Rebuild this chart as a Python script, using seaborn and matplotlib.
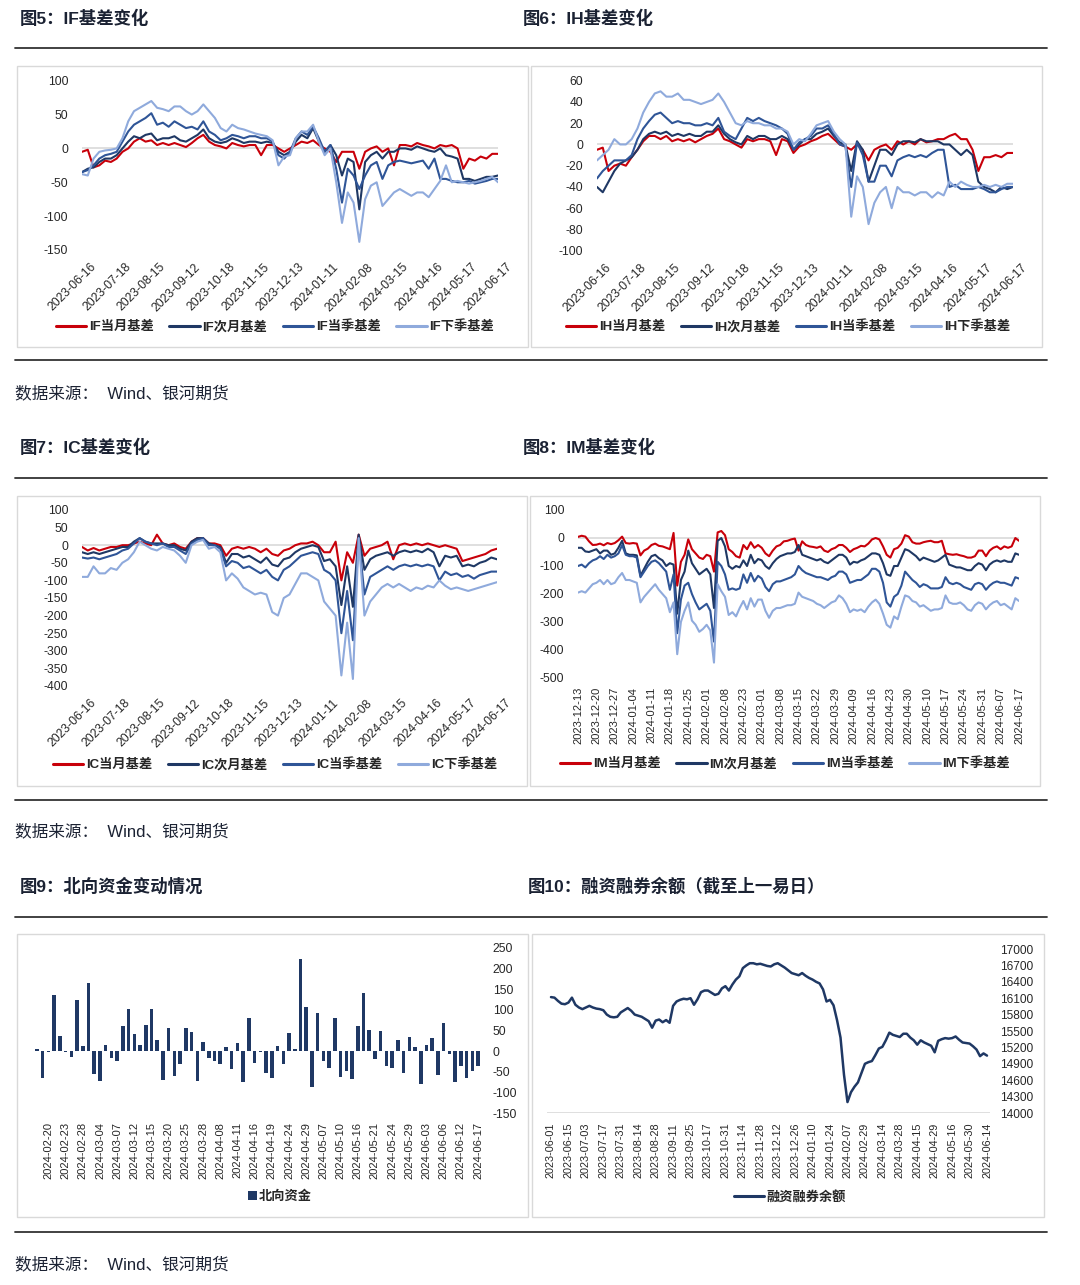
import numpy as np
import pandas as pd
import matplotlib
matplotlib.use('Agg')
import matplotlib.pyplot as plt
import matplotlib.transforms as mtransforms
from matplotlib.lines import Line2D
from matplotlib.patches import Rectangle
from matplotlib.font_manager import FontProperties
import seaborn as sns

W, H = 1080, 1285

# ---------------- data ----------------
basis_ticks = ['2023-06-16', '2023-07-18', '2023-08-15', '2023-09-12', '2023-10-18',
               '2023-11-15', '2023-12-13', '2024-01-11', '2024-02-08', '2024-03-15',
               '2024-04-16', '2024-05-17', '2024-06-17']

if_curr = [-5, -2, -28, -25, -18, -20, -15, -5, 0, 10, 15, 10, 12, 5, 8, 5, 8, 5,
           2, 8, 15, 20, 10, 5, 3, 0, 8, 5, 3, 5, 5, -10, 5, 5, 0, -5,
           0, 5, 10, 8, 12, 5, 0, -5, -20, -5, -5, -5, -30, -5, 0, 3, -5, 0,
           -25, 5, 5, 3, 8, 5, 3, 0, 5, 3, 5, 0, -30, -15, -18, -12, -15, -8, -8]
if_next = [-35, -30, -28, -20, -15, -15, -10, 0, 10, 18, 15, 20, 22, 12, 15, 15, 18, 12,
           10, 15, 20, 28, 15, 10, 8, 10, 15, 12, 8, 10, 10, 8, 10, 8, -5, -10,
           -5, 10, 20, 15, 30, 10, -5, 5, -10, -40, -15, -20, -90, -20, -10, -5, -15, -5,
           -5, 0, 0, -2, 3, 0, -3, -5, 0, -10, -12, -15, -45, -45, -48, -45, -42, -42, -40]
if_quarter = [-35, -32, -25, -15, -10, -8, -5, 10, 25, 35, 40, 45, 52, 35, 38, 32, 40, 35,
              30, 32, 28, 40, 25, 20, 12, 15, 20, 18, 15, 18, 18, 15, 15, 10, -10, -15,
              -5, 15, 25, 20, 32, 15, -5, 5, -30, -80, -30, -40, -60, -40, -25, -20, -45, -25,
              -20, -18, -20, -22, -20, -18, -30, -15, -45, -45, -48, -50, -50, -48, -52, -50, -48, -45, -45]
if_nextq = [-38, -40, -15, -5, -3, -2, 0, 15, 40, 55, 60, 65, 70, 60, 58, 55, 62, 62,
            55, 50, 55, 65, 55, 45, 30, 25, 35, 30, 28, 25, 22, 20, 18, 12, -25, -12,
            -10, 15, 25, 25, 35, 10, -10, 0, -50, -110, -65, -80, -138, -75, -55, -50, -85, -75,
            -65, -60, -65, -70, -65, -65, -72, -60, -48, -25, -50, -48, -50, -52, -50, -48, -45, -42, -50]

ih_curr = [-5, -3, -25, -20, -18, -20, -12, -5, 3, 8, 8, 5, 8, 3, 5, 3, 5, 2,
           5, 8, 10, 15, 5, 3, 0, -3, 5, 3, 5, 5, 3, -10, 5, 3, -8, -2,
           0, 3, 5, 8, 10, 5, 0, -2, -5, 0, -5, -15, -5, -2, 0, -5, 3, 0,
           3, 0, 5, 2, 3, 5, 5, 8, 10, 5, 5, -5, -25, -12, -12, -10, -12, -8, -8]
ih_next = [-40, -45, -35, -25, -18, -15, -12, -5, 5, 10, 12, 10, 12, 8, 10, 8, 10, 8,
           8, 12, 12, 18, 10, 5, 2, 0, 8, 5, 8, 8, 5, 5, 8, 5, -5, 0,
           5, 5, 10, 12, 15, 8, 2, 0, -25, 3, -5, -35, -20, -5, -5, -10, 0, 3,
           3, 2, 5, 3, 3, 3, 0, 0, -5, -10, -5, -10, -35, -40, -42, -45, -40, -42, -40]
ih_quarter = [-32, -25, -20, -15, -15, -15, -10, 5, 15, 22, 28, 30, 25, 20, 22, 20, 20, 18,
              18, 20, 18, 25, 12, 8, 5, 15, 25, 22, 25, 22, 20, 18, 15, 10, -5, 2,
              5, 8, 15, 15, 18, 10, 0, -2, -40, 2, -10, -35, -35, -20, -20, -30, -15, -12,
              -10, -12, -10, -12, -8, -5, -5, -40, -38, -42, -42, -42, -40, -42, -45, -45, -42, -40, -40]
ih_nextq = [-15, -10, -5, 5, 0, 0, 5, 15, 30, 40, 48, 50, 45, 45, 48, 42, 42, 40,
            38, 40, 42, 48, 40, 30, 20, 18, 22, 20, 20, 18, 18, 15, 15, 12, 0, 5,
            3, 10, 18, 20, 22, 12, 5, 0, -68, -30, -40, -75, -55, -45, -40, -60, -40, -45,
            -45, -48, -45, -45, -50, -45, -48, -35, -40, -35, -38, -40, -40, -38, -40, -38, -40, -37, -37]

ic_curr = [-5, -15, -8, -15, -10, -5, -5, 0, 0, 5, 10, 5, 0, 30, 5, 0, 5, -5,
           -10, 10, 20, 20, 5, 5, 0, -30, -10, -5, -10, -5, -10, -20, -10, -25, -30, -15,
           -10, 0, 5, 5, 10, 0, -20, -20, 10, -100, -20, -50, 30, -30, -10, -5, 0, 10,
           -40, 0, 5, 0, 5, 0, 5, 0, -5, 0, -5, -10, -45, -40, -35, -30, -25, -15, -10]
ic_next = [-20, -25, -20, -25, -20, -15, -10, -5, -5, 10, 20, 10, 5, 5, 5, 0, 0, -10,
           -15, 10, 20, 20, 5, 0, -5, -50, -25, -25, -35, -30, -40, -50, -35, -55, -60, -40,
           -35, -20, -10, -5, 0, -5, -45, -40, -60, -170, -60, -175, 30, -70, -40, -30, -25, -20,
           -30, -20, -15, -20, -15, -20, -10, -20, -60, -30, -35, -30, -60, -55, -60, -50, -45, -35, -40]
ic_quarter = [-35, -38, -35, -40, -35, -30, -25, -15, -10, 5, 20, 10, 5, 0, 5, -5, -5, -15,
              -25, 5, 15, 20, 0, 0, -10, -60, -45, -50, -65, -60, -70, -80, -70, -90, -100, -70,
              -60, -45, -30, -25, -20, -25, -70, -80, -100, -250, -130, -270, 20, -140, -90, -80, -70, -60,
              -70, -60, -55, -60, -55, -60, -55, -60, -100, -75, -85, -80, -90, -85, -95, -85, -80, -75, -75]
ic_nextq = [-90, -90, -60, -80, -80, -65, -70, -50, -40, -20, 10, 0, -10, -15, -5, -10, -15, -30,
            -50, 0, 10, 15, -10, -5, -20, -100, -80, -95, -120, -130, -140, -135, -140, -190, -200, -150,
            -140, -110, -80, -80, -90, -100, -160, -180, -200, -370, -220, -380, 20, -200, -160, -140, -120, -110,
            -120, -110, -120, -130, -120, -125, -115, -120, -100, -115, -125, -120, -125, -130, -125, -120, -115, -110, -105]

im_ticks = ['2023-12-13', '2023-12-20', '2023-12-27', '2024-01-04', '2024-01-11', '2024-01-18',
            '2024-01-25', '2024-02-01', '2024-02-08', '2024-02-23', '2024-03-01', '2024-03-08',
            '2024-03-15', '2024-03-22', '2024-03-29', '2024-04-09', '2024-04-16', '2024-04-23',
            '2024-04-30', '2024-05-10', '2024-05-17', '2024-05-24', '2024-05-31', '2024-06-07',
            '2024-06-17']
im_curr = [4, 8, 5, -12, -25, -24, -20, -26, -18, -22, -18, -8, 5, -18, -20,
           -18, -20, -62, -45, -38, -25, -20, -28, -30, -35, -40, 18, -170, -85, -60,
           -5, -40, -55, -70, -75, -60, -65, -120, 20, 25, 10, -40, -50, -65, -70,
           -25, -40, -15, -35, -25, -35, -55, -65, -45, -30, -25, -12, -10, -5, -2,
           -45, -12, -25, -30, -32, -35, -30, -45, -50, -40, -35, -25, -25, -35, -50,
           -40, -35, -28, -30, -20, -5, 0, -5, -30, -60, -70, -40, -35, -20, 10,
           5, -15, -20, -20, -15, -12, -10, -15, -15, -10, -55, -58, -60, -58, -62,
           -65, -70, -70, -65, -45, -45, -65, -45, -35, -30, -40, -30, -35, -30, 0, -10]
im_next = [-35, -35, -48, -50, -45, -40, -55, -45, -45, -60, -55, -35, -10, -55, -60,
           -60, -62, -135, -110, -85, -65, -60, -72, -80, -100, -90, -95, -270, -150, -120,
           -45, -90, -110, -130, -120, -110, -130, -250, -10, 0, -30, -100, -110, -100, -105,
           -80, -100, -60, -90, -75, -80, -100, -110, -90, -75, -65, -60, -55, -55, -50,
           -25, -60, -65, -70, -75, -80, -75, -85, -90, -80, -70, -60, -60, -70, -95,
           -85, -88, -80, -75, -65, -55, -55, -60, -90, -130, -135, -100, -100, -70, -40,
           -45, -55, -65, -80, -70, -75, -80, -85, -80, -70, -60, -95, -100, -105, -105,
           -110, -115, -115, -100, -90, -95, -115, -95, -85, -80, -85, -80, -85, -85, -55, -60]
im_quarter = [-100, -95, -105, -90, -80, -75, -65, -75, -60, -70, -65, -55, -25, -60, -65,
              -65, -70, -140, -120, -100, -85, -80, -90, -105, -120, -185, -130, -340, -220, -170,
              -160, -200, -230, -255, -245, -235, -260, -370, -85, -100, -130, -185, -180, -185, -180,
              -130, -160, -125, -155, -135, -145, -175, -190, -165, -155, -155, -150, -145, -140, -130,
              -100, -115, -125, -130, -135, -140, -140, -145, -150, -140, -135, -120, -120, -130, -160,
              -155, -150, -150, -140, -130, -110, -110, -120, -160, -230, -245, -210, -200, -170, -120,
              -135, -150, -160, -175, -165, -170, -180, -180, -180, -175, -140, -160, -165, -160, -165,
              -175, -180, -185, -165, -160, -165, -185, -170, -160, -155, -160, -160, -165, -170, -140, -145]
im_nextq = [-195, -190, -195, -180, -165, -160, -150, -165, -150, -165, -160, -140, -125, -150, -150,
            -155, -160, -230, -210, -195, -180, -165, -185, -200, -215, -265, -230, -415, -300, -260,
            -230, -295, -310, -335, -325, -310, -330, -445, -165, -190, -210, -275, -265, -280, -250,
            -225, -255, -215, -245, -220, -220, -260, -285, -260, -250, -250, -245, -240, -240, -235,
            -195, -210, -215, -220, -225, -235, -240, -250, -240, -230, -225, -205, -215, -235, -265,
            -255, -260, -255, -265, -245, -230, -220, -235, -270, -310, -320, -280, -290, -245, -205,
            -210, -225, -230, -245, -240, -250, -260, -255, -255, -250, -205, -230, -235, -235, -230,
            -240, -255, -260, -240, -230, -235, -255, -240, -230, -225, -240, -235, -245, -255, -215, -225]

north_ticks = ['2024-02-20', '2024-02-23', '2024-02-28', '2024-03-04', '2024-03-07', '2024-03-12',
               '2024-03-15', '2024-03-20', '2024-03-25', '2024-03-28', '2024-04-08', '2024-04-11',
               '2024-04-16', '2024-04-19', '2024-04-24', '2024-04-29', '2024-05-07', '2024-05-10',
               '2024-05-16', '2024-05-21', '2024-05-24', '2024-05-29', '2024-06-03', '2024-06-06',
               '2024-06-12', '2024-06-17']
north_flow = [6, -65, -2, 135, 36, -3, -15, 123, 13, 165, -55, -73, 15, -16, -23, 60, 102, 42,
              15, 63, 102, 28, -71, 55, -61, -32, 55, 46, -73, 23, -16, -24, -31, 10, -43, 19,
              -74, 81, -29, -3, -53, -66, 13, -31, 45, 4, 223, 108, -86, 93, -23, -42, 80, -63,
              -48, -68, 60, 140, 52, -20, 48, -35, -41, 27, -52, 35, 10, -80, 15, 32, -58, 67,
              -8, -76, -35, -65, -49, -35]

margin_ticks = ['2023-06-01', '2023-06-15', '2023-07-03', '2023-07-17', '2023-07-31', '2023-08-14',
                '2023-08-28', '2023-09-11', '2023-09-25', '2023-10-17', '2023-10-31', '2023-11-14',
                '2023-11-28', '2023-12-12', '2023-12-26', '2024-01-10', '2024-01-24', '2024-02-07',
                '2024-02-29', '2024-03-14', '2024-03-28', '2024-04-15', '2024-04-29', '2024-05-16',
                '2024-05-30', '2024-06-14']
margin_balance = [16120, 16110, 16050, 16000, 15990, 16020, 16110, 15980, 15930, 15900,
                  15930, 15960, 15930, 15910, 15900, 15880, 15800, 15760, 15750, 15760,
                  15840, 15880, 15920, 15870, 15800, 15780, 15760, 15720, 15680, 15560,
                  15690, 15710, 15660, 15700, 15650, 15960, 16040, 16070, 16090, 16080,
                  16100, 15980, 16080, 16210, 16240, 16240, 16200, 16160, 16180, 16280,
                  16320, 16240, 16350, 16440, 16500, 16650, 16700, 16740, 16740, 16720,
                  16730, 16710, 16690, 16680, 16720, 16740, 16700, 16660, 16610, 16560,
                  16540, 16520, 16560, 16510, 16470, 16440, 16400, 16370, 16260, 16040,
                  16070, 15970, 15700, 15380, 14700, 14200, 14380, 14480, 14560, 14730,
                  14900, 14930, 14950, 15060, 15180, 15210, 15330, 15470, 15430, 15410,
                  15390, 15450, 15450, 15380, 15330, 15250, 15330, 15290, 15260, 15230,
                  15110, 15320, 15350, 15370, 15360, 15370, 15400, 15340, 15290, 15280,
                  15270, 15220, 15160, 15040, 15090, 15050]

COLORS = ['#C8000A', '#1F3864', '#2F5597', '#8FAADC']
SUFFIX = ['当月基差', '次月基差', '当季基差', '下季基差']
FAM = ['Liberation Sans', 'Noto Sans CJK SC', 'DejaVu Sans']
TXT = '#262626'
NAVY = '#1F3864'

sns.set_theme(style='white')
plt.rcParams['font.family'] = FAM
plt.rcParams['axes.unicode_minus'] = False

fig = plt.figure(figsize=(W / 100, H / 100), dpi=100)


def axes_px(x0, x1, yt, yb):
    ax = fig.add_axes([x0 / W, 1 - yb / H, (x1 - x0) / W, (yb - yt) / H])
    ax.set_facecolor('none')
    return ax


def clean(ax):
    for s in ax.spines.values():
        s.set_visible(False)
    ax.tick_params(length=0, colors=TXT)
    ax.set_xlabel('')
    ax.set_ylabel('')
    ax.grid(False)


def fig_legend(handles, labels, cx, cy, ncol, **kw):
    fig.legend(handles, labels, loc='center', bbox_to_anchor=(cx / W, 1 - cy / H),
               ncol=ncol, frameon=False,
               prop=FontProperties(family=FAM, weight='bold', size=9.5), **kw)


def basis_panel(prefix, series, box, ylim, yticks, xlabels, rotate45, legend_xy):
    x0, x1, yt, yb = box
    ax = axes_px(x0, x1, yt, yb)
    n = len(series[0])
    names = [prefix + s for s in SUFFIX]
    df = pd.DataFrame({'idx': np.tile(np.arange(n), 4),
                       'val': np.concatenate([np.asarray(s, float) for s in series]),
                       'name': np.repeat(names, n)})
    ax.axhline(0, color='#D9D9D9', lw=1.2, zorder=0)
    sns.lineplot(data=df, x='idx', y='val', hue='name', hue_order=names,
                 palette=dict(zip(names, COLORS)), linewidth=1.5, ax=ax, legend=False)
    clean(ax)
    ax.set_xlim(0, n - 1)
    ax.set_ylim(*ylim)
    ax.set_yticks(yticks)
    ax.set_yticklabels([str(v) for v in yticks], fontsize=8.7)
    ax.tick_params(axis='y', pad=10)
    step = (n - 1) / (len(xlabels) - 1)
    ax.set_xticks([step * i for i in range(len(xlabels))])
    if rotate45:
        ax.set_xticklabels(xlabels, rotation=45, ha='right', rotation_mode='anchor', fontsize=8.7)
        ax.tick_params(axis='x', pad=8)
        off = mtransforms.ScaledTranslation(8 / 100, 0, fig.dpi_scale_trans)
        for t in ax.get_xticklabels():
            t.set_transform(t.get_transform() + off)
    else:
        ax.set_xticklabels(xlabels, rotation=90, ha='center', va='top', fontsize=8)
        ax.tick_params(axis='x', pad=6.5)
    handles = [Line2D([], [], color=c, lw=2.2) for c in COLORS]
    fig_legend(handles, names, legend_xy[0], legend_xy[1], 4,
               handlelength=2.3, handletextpad=0.2, columnspacing=1.2)
    return ax


# ---------------- page furniture ----------------
def title(x, y, s):
    fig.text(x / W, 1 - y / H, s, ha='left', va='center', fontsize=12.5,
             weight='bold', color='#1B2233', family=FAM)


def source(y):
    fig.text(15 / W, 1 - y / H, '数据来源：  Wind、银河期货', ha='left', va='center',
             fontsize=12, color='#1B2233', family=FAM)


def rule(y):
    fig.add_artist(Line2D([15 / W, 1047 / W], [1 - y / H, 1 - y / H],
                          transform=fig.transFigure, color='#333333', lw=1.3))


def frame(x0, y0, x1, y1):
    fig.add_artist(Rectangle((x0 / W, 1 - y1 / H), (x1 - x0) / W, (y1 - y0) / H,
                             transform=fig.transFigure, fill=False, ec='#D9D9D9', lw=1))


title(20, 18, '图5：IF基差变化')
title(523, 18, '图6：IH基差变化')
title(20, 447, '图7：IC基差变化')
title(523, 447, '图8：IM基差变化')
title(20, 886, '图9：北向资金变动情况')
title(528, 886, '图10：融资融券余额（截至上一易日）')
for y in (48, 360, 478, 800, 917, 1232):
    rule(y)
for y in (393, 831, 1264):
    source(y)
frame(17, 66, 528, 347)
frame(531, 66, 1042, 347)
frame(17, 496, 527, 786)
frame(530, 496, 1040, 786)
frame(17, 934, 528, 1217)
frame(532, 934, 1044, 1217)

# ---------------- basis charts ----------------
basis_panel('IF', [if_curr, if_next, if_quarter, if_nextq], (82, 498, 80.7, 250),
            (-150, 100), [100, 50, 0, -50, -100, -150], basis_ticks, True, (275, 327))
basis_panel('IH', [ih_curr, ih_next, ih_quarter, ih_nextq], (597, 1013, 80.7, 250.7),
            (-100, 60), [60, 40, 20, 0, -20, -40, -60, -80, -100], basis_ticks, True, (788, 327))
basis_panel('IC', [ic_curr, ic_next, ic_quarter, ic_nextq], (82, 497, 510, 686),
            (-400, 100), list(range(100, -401, -50)), basis_ticks, True, (275, 765))
basis_panel('IM', [im_curr, im_next, im_quarter, im_nextq], (578, 1019, 510, 678),
            (-500, 100), list(range(100, -501, -100)), im_ticks, False, (785, 764))

# ---------------- northbound flow ----------------
nb = len(north_flow)
ax9 = axes_px(37 - 2.9, 478 + 2.9, 948, 1113)
sns.barplot(x=np.arange(nb), y=north_flow, color=NAVY, saturation=1,
            width=0.62, linewidth=0, edgecolor='none', ax=ax9)
clean(ax9)
ax9.set_xlim(-0.5, nb - 0.5)
ax9.set_ylim(-150, 250)
ax9.yaxis.tick_right()
ax9.set_yticks(list(range(250, -151, -50)))
ax9.set_yticklabels([str(v) for v in range(250, -151, -50)], fontsize=8.7)
ax9.tick_params(axis='y', pad=8.5, length=0)
ax9.set_xticks([2 + 3 * i for i in range(len(north_ticks))])
ax9.set_xticklabels(north_ticks, rotation=90, ha='center', va='top', fontsize=8)
ax9.tick_params(axis='x', pad=6.5)
fig_legend([Rectangle((0, 0), 1, 1, fc=NAVY, ec='none')], ['北向资金'], 280, 1197, 1,
           handlelength=0.7, handleheight=0.7, handletextpad=0.1)

# ---------------- margin balance ----------------
nm = len(margin_balance)
s = (987 - 551) / (nm - 1)
ax10 = axes_px(547, 990, 949, 1113)
ax10.axhline(14000, color='#D9D9D9', lw=1.2, zorder=0)
sns.lineplot(x=np.arange(nm), y=margin_balance, color=NAVY, linewidth=1.8, ax=ax10)
clean(ax10)
ax10.set_xlim(-(551 - 547) / s, (nm - 1) + (990 - 987) / s)
ax10.set_ylim(14000, 17000)
ax10.yaxis.tick_right()
mt = list(range(17000, 13999, -300))
ax10.set_yticks(mt)
ax10.set_yticklabels([str(v) for v in mt], fontsize=8.6)
ax10.tick_params(axis='y', pad=7, length=0)
ax10.set_xticks([5 * i for i in range(len(margin_ticks))])
ax10.set_xticklabels(margin_ticks, rotation=90, ha='center', va='top', fontsize=7.8)
ax10.tick_params(axis='x', pad=7)
fig_legend([Line2D([], [], color=NAVY, lw=2.2)], ['融资融券余额'], 790, 1197, 1,
           handlelength=2.3, handletextpad=0.2)

fig.savefig('out.png', dpi=100)
